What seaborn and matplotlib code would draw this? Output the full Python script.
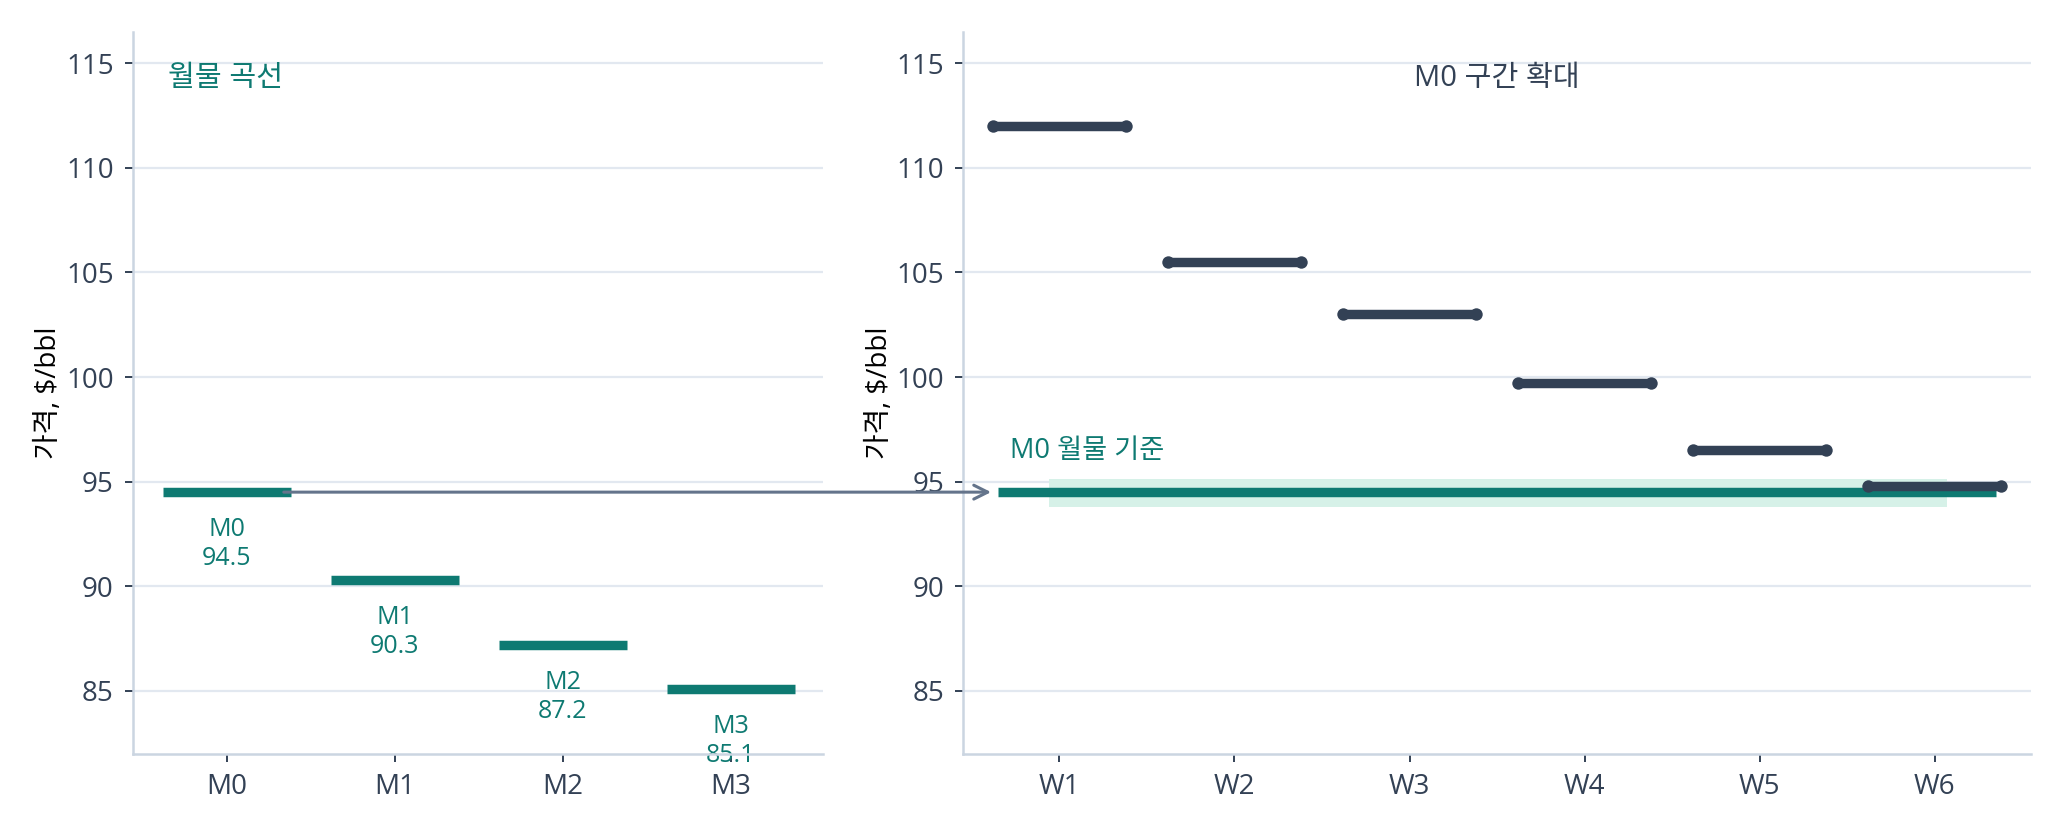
import seaborn as sns
import matplotlib.pyplot as plt
import pandas as pd
from matplotlib.patches import ConnectionPatch

# 데이터
months = ['M0', 'M1', 'M2', 'M3']
month_prices = [94.5, 90.3, 87.2, 85.1]
weeks = ['W1', 'W2', 'W3', 'W4', 'W5', 'W6']
week_prices = [112.0, 105.5, 103.0, 99.7, 96.5, 94.8]
y_ticks = [85, 90, 95, 100, 105, 110, 115]

TEAL = '#0e7a72'
DARK = '#334155'
BAND = '#d6f1e8'
ARROW = '#64748b'
SPINE = '#cbd5e1'
GRID = '#e2e8f0'
HALF = 0.38


def setup_style():
    sns.set_theme(style='white')
    plt.rcParams['font.family'] = ['Open Sans', 'Noto Sans CJK KR', 'DejaVu Sans']
    plt.rcParams['axes.unicode_minus'] = False


def style_axes(ax):
    ax.set_ylim(82, 116.5)
    ax.set_yticks(y_ticks)
    ax.grid(axis='y', color=GRID, linewidth=0.8, zorder=0)
    ax.grid(axis='x', visible=False)
    ax.set_axisbelow(True)
    for s in ['top', 'right']:
        ax.spines[s].set_visible(False)
    for s in ['left', 'bottom']:
        ax.spines[s].set_color(SPINE)
        ax.spines[s].set_linewidth(0.9)
        ax.spines[s].set_zorder(5)
    ax.tick_params(axis='both', which='major', length=3, width=0.7, color=DARK,
                   labelsize=10, labelcolor=DARK, left=True, bottom=True, pad=4)
    ax.set_ylabel('가격, $/bbl', fontsize=10, color='black', labelpad=1)
    ax.set_xlabel('')


setup_style()
fig = plt.figure(figsize=(10.315, 4.16), dpi=200)
ax1 = fig.add_axes([0.0645, 0.094, 0.3345, 0.868])
ax2 = fig.add_axes([0.467, 0.094, 0.5175, 0.868])

# 왼쪽: 월물 곡선
df_m = pd.DataFrame({'month': months, 'price': month_prices})
xm = list(range(len(months)))
ax1.hlines(df_m['price'], [x - HALF for x in xm], [x + HALF for x in xm],
           colors=TEAL, linewidth=3.4, capstyle='butt', zorder=3)
for x, m, p in zip(xm, months, month_prices):
    ax1.text(x, p - 1.2, f'{m}\n{p:.1f}', ha='center', va='top',
             fontsize=9, color=TEAL, linespacing=1.2, zorder=4)
ax1.set_xlim(-0.557, 3.55)
ax1.set_xticks(xm)
ax1.set_xticklabels(months)
style_axes(ax1)
ax1.text(0.05, 0.955, '월물 곡선', transform=ax1.transAxes, ha='left', va='top',
         fontsize=10.5, color=TEAL)

# 오른쪽: M0 구간 확대
df_w = pd.DataFrame({'week': weeks, 'price': week_prices})
xw = list(range(len(weeks)))
m0 = month_prices[0]
ax2.fill_between([-0.06, len(weeks) - 1 + 0.07], m0 - 0.7, m0 + 0.65,
                 color=BAND, linewidth=0, zorder=1)
ax2.hlines(m0, -0.35, len(weeks) - 1 + 0.35, colors=TEAL, linewidth=3.4,
           capstyle='butt', zorder=2)
ax2.hlines(df_w['price'], [x - HALF for x in xw], [x + HALF for x in xw],
           colors=DARK, linewidth=3.4, capstyle='round', zorder=3)
ends = pd.DataFrame({
    'x': [x - HALF for x in xw] + [x + HALF for x in xw],
    'price': week_prices + week_prices,
})
sns.scatterplot(data=ends, x='x', y='price', ax=ax2, color=DARK, s=20,
                linewidth=0, zorder=4, legend=False)
ax2.text(-0.28, m0 + 1.95, 'M0 월물 기준', ha='left', va='center',
         fontsize=9.8, color=TEAL)
ax2.set_xlim(-0.548, 5.55)
ax2.set_xticks(xw)
ax2.set_xticklabels(weeks)
style_axes(ax2)
ax2.text(0.5, 0.955, 'M0 구간 확대', transform=ax2.transAxes, ha='center', va='top',
         fontsize=10.5, color=DARK)

# 화살표
con = ConnectionPatch(xyA=(HALF - 0.04, m0), coordsA=ax1.transData,
                      xyB=(-0.39, m0), coordsB=ax2.transData,
                      arrowstyle='->,head_length=0.5,head_width=0.25',
                      color=ARROW, linewidth=1.1, zorder=6)
fig.add_artist(con)

fig.savefig('out.png', dpi=200)
plt.close(fig)
